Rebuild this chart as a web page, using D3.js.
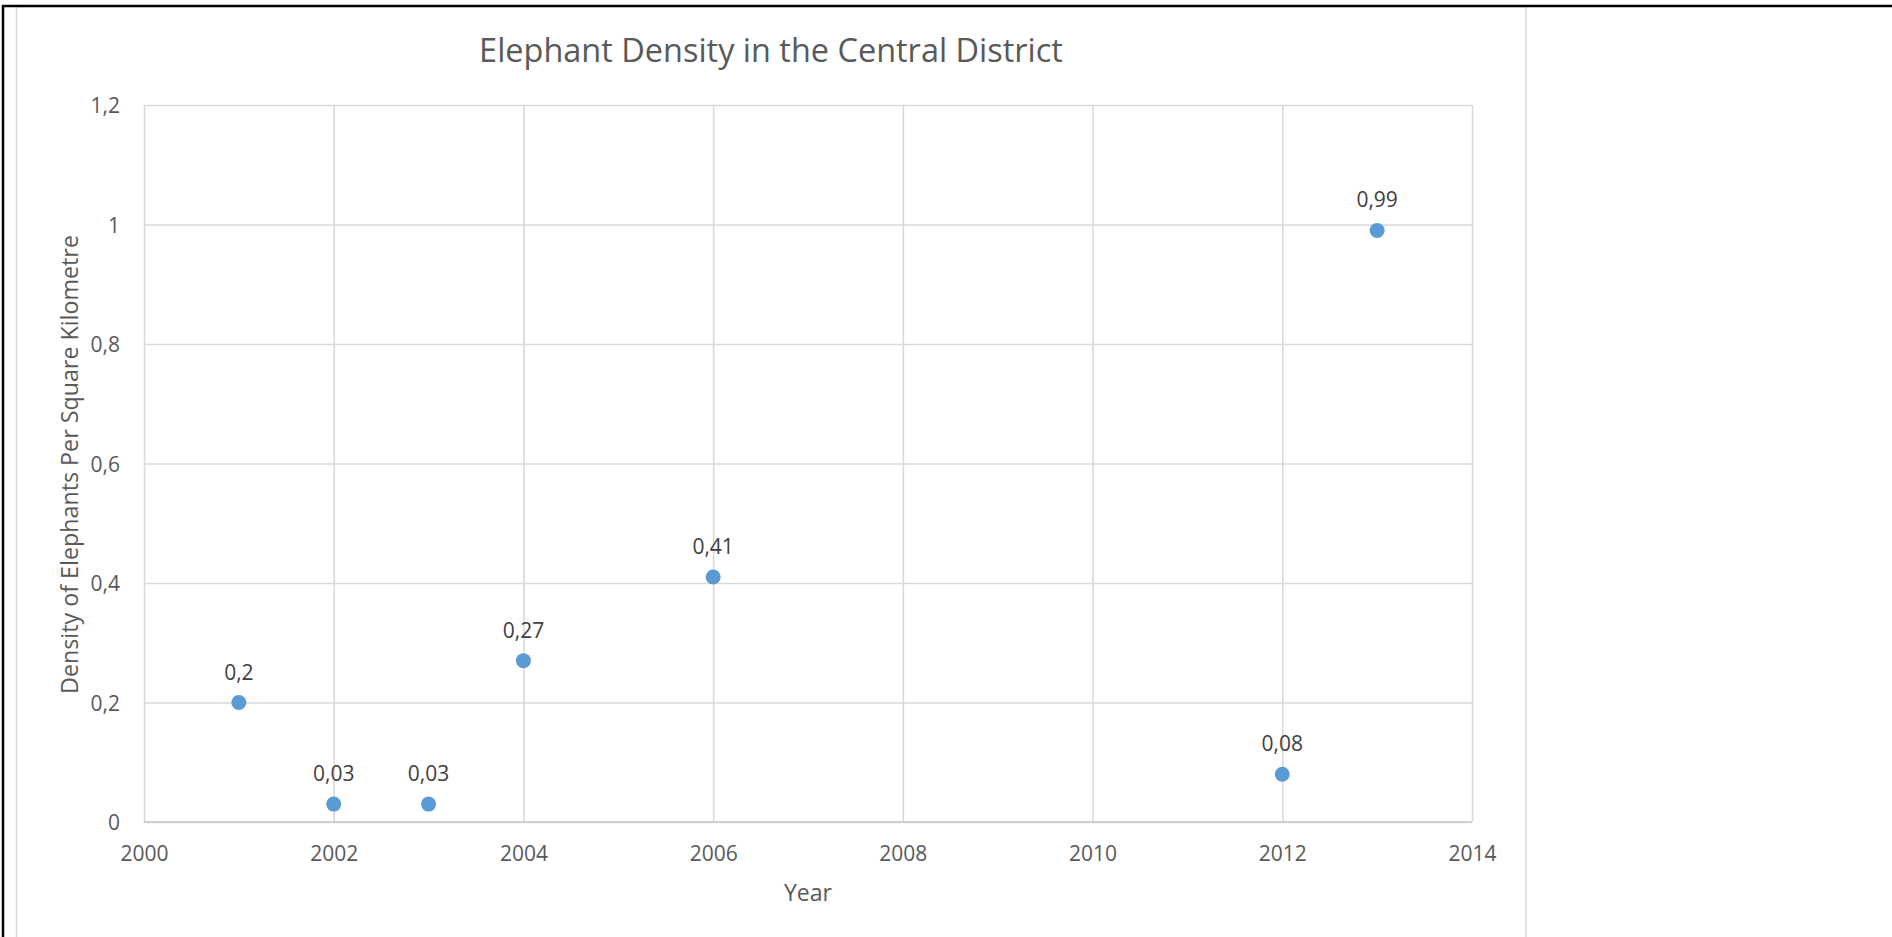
<!DOCTYPE html>
<html>
<head>
<meta charset="utf-8">
<script src="https://cdn.jsdelivr.net/npm/d3@7"></script>
<style>
  html, body { margin: 0; padding: 0; background: #fff; }
  svg { display: block; }
  text { font-family: "Open Sans", "Noto Sans", sans-serif; }
</style>
</head>
<body>
<svg id="chart" width="1892" height="937"></svg>
<script>
// ---- data ----
const years = [2001, 2002, 2003, 2004, 2006, 2012, 2013];
const density = [0.2, 0.03, 0.03, 0.27, 0.41, 0.08, 0.99];
const xTicks = [2000, 2002, 2004, 2006, 2008, 2010, 2012, 2014];
const yTicks = [0, 0.2, 0.4, 0.6, 0.8, 1, 1.2];
const chartTitle = "Elephant Density in the Central District";
const xTitle = "Year";
const yTitle = "Density of Elephants Per Square Kilometre";

// ---- layout ----
const W = 1892, H = 937;
const plot = { left: 144, right: 1472, top: 105, bottom: 822 };
const svg = d3.select("#chart");

const loc = d3.formatLocale({ decimal: ",", thousands: ".", grouping: [3], currency: ["", ""] });
const fmtNum = v => loc.format("~g")(v);

const x = d3.scaleLinear().domain([2000, 2014]).range([plot.left, plot.right]);
const y = d3.scaleLinear().domain([0, 1.2]).range([plot.bottom, plot.top]);

// page frame
svg.append("rect").attr("x", 0).attr("y", 0).attr("width", W).attr("height", H).attr("fill", "#fff");
// chart area border
svg.append("rect").attr("x", 16.5).attr("y", 6.5).attr("width", 1526 - 16.5).attr("height", H)
  .attr("fill", "#fff").attr("stroke", "#d9d9d9").attr("stroke-width", 1.5);
// black frame lines
svg.append("line").attr("x1", 2).attr("x2", W).attr("y1", 6).attr("y2", 6)
  .attr("stroke", "#000").attr("stroke-width", 2.5);
svg.append("line").attr("x1", 3).attr("x2", 3).attr("y1", 5).attr("y2", H)
  .attr("stroke", "#000").attr("stroke-width", 2.5);

const tickColor = "#595959";
const fs = 21;

// x axis with vertical gridlines
const gx = svg.append("g").attr("transform", `translate(0,${plot.bottom})`)
  .call(d3.axisBottom(x).tickValues(xTicks).tickFormat(d3.format("d"))
    .tickSizeInner(-(plot.bottom - plot.top)).tickSizeOuter(0));
gx.select(".domain").remove();
gx.selectAll(".tick line").attr("stroke", "#d9d9d9").attr("stroke-width", 1.6);
gx.selectAll(".tick text").attr("y", 39).attr("dy", 0)
  .attr("fill", tickColor).style("font-size", fs + "px");

// y axis with horizontal gridlines
const gy = svg.append("g").attr("transform", `translate(${plot.left},0)`)
  .call(d3.axisLeft(y).tickValues(yTicks).tickFormat(fmtNum)
    .tickSizeInner(-(plot.right - plot.left)).tickSizeOuter(0));
gy.select(".domain").remove();
gy.selectAll(".tick line").attr("stroke", "#d9d9d9").attr("stroke-width", 1.6);
gy.selectAll(".tick text").attr("x", -24).attr("dy", "0.36em")
  .attr("fill", tickColor).style("font-size", fs + "px");
// bottom axis line
svg.append("line").attr("x1", plot.left).attr("x2", plot.right)
  .attr("y1", plot.bottom).attr("y2", plot.bottom)
  .attr("stroke", "#d0d0d0").attr("stroke-width", 2);

// helper: fit font size to a target width
function fitText(sel, target) {
  sel.style("font-size", "100px");
  const w = sel.node().getComputedTextLength();
  sel.style("font-size", (100 * target / w) + "px");
}

// title
const t = svg.append("text").attr("x", 771).attr("y", 62).attr("text-anchor", "middle")
  .attr("fill", "#595959").text(chartTitle);
fitText(t, 584);

// x title
const xt = svg.append("text").attr("x", (plot.left + plot.right) / 2).attr("y", 901)
  .attr("text-anchor", "middle").attr("fill", "#595959").text(xTitle);
fitText(xt, 48);

// y title
const yt = svg.append("text")
  .attr("transform", `translate(78,${(plot.top + plot.bottom) / 2 + 1}) rotate(-90)`)
  .attr("text-anchor", "middle").attr("fill", "#595959").text(yTitle);
fitText(yt, 459);

// points
const pts = years.map((yr, i) => ({ yr, v: density[i] }));
svg.append("g").selectAll("circle").data(pts).join("circle")
  .attr("cx", d => x(d.yr)).attr("cy", d => y(d.v)).attr("r", 7.5)
  .attr("fill", "#5b9bd5");

// data labels
svg.append("g").selectAll("text").data(pts).join("text")
  .attr("x", d => x(d.yr)).attr("y", d => y(d.v) - 23)
  .attr("text-anchor", "middle").attr("fill", "#404040")
  .style("font-size", fs + "px").text(d => fmtNum(d.v));
</script>
</body>
</html>
